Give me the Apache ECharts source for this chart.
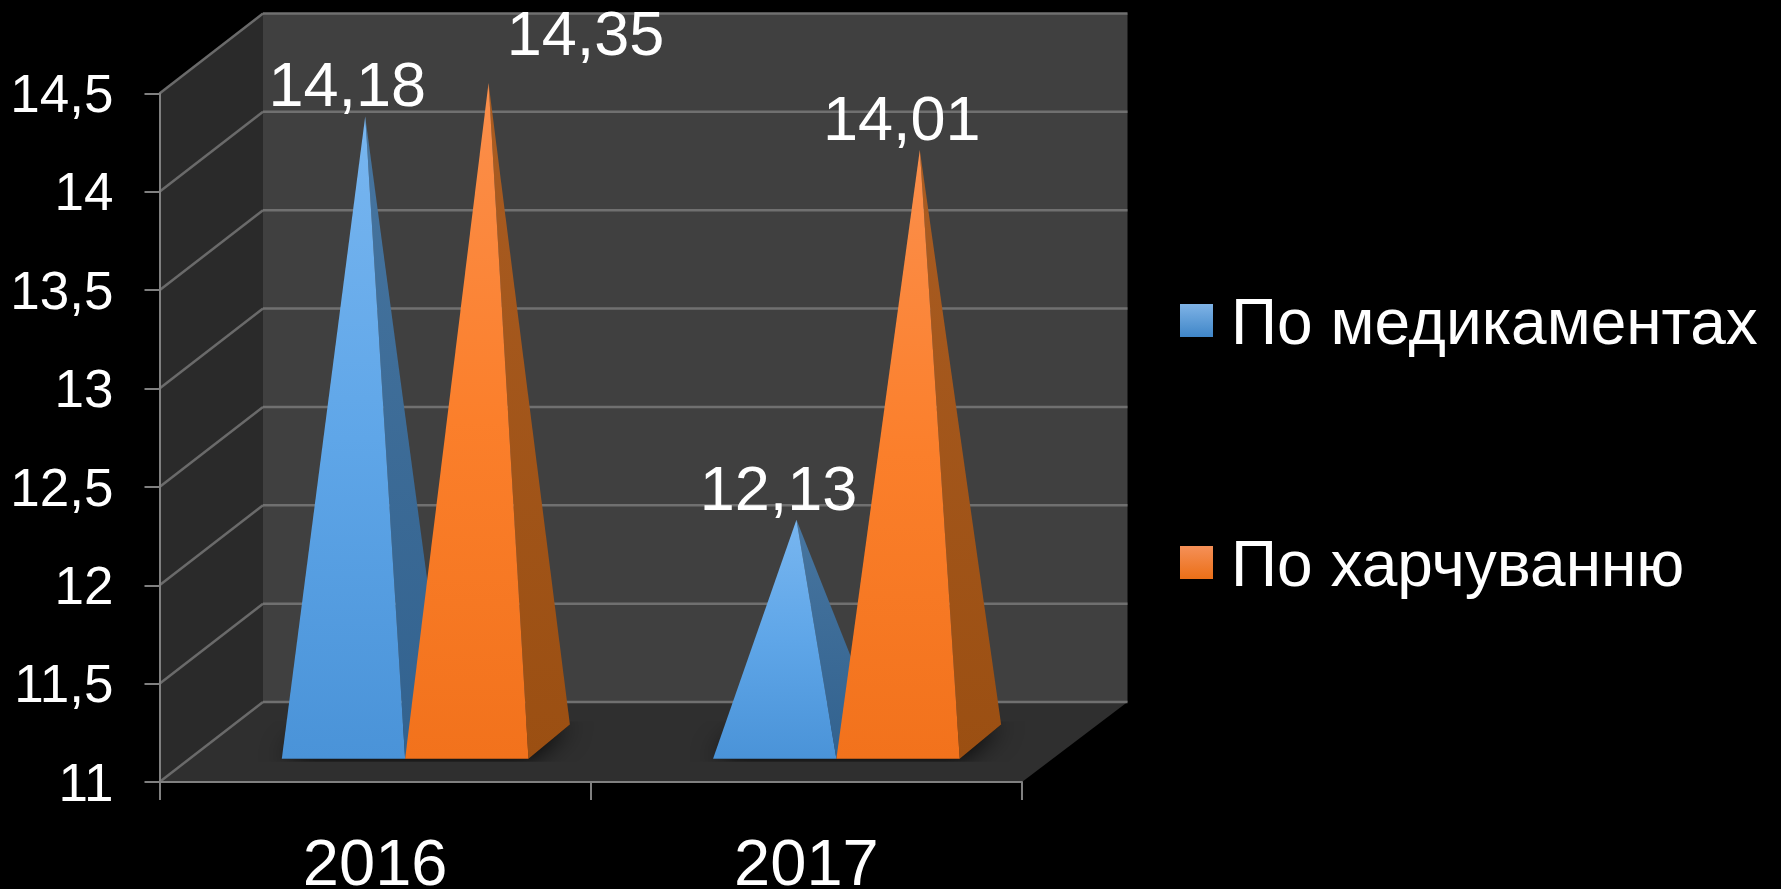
<!DOCTYPE html>
<html>
<head>
<meta charset="utf-8">
<style>html,body{margin:0;padding:0;background:#000}#c{width:1781px;height:889px}</style>
<script src="https://cdn.jsdelivr.net/npm/echarts@6/dist/echarts.min.js"></script>
</head>
<body>
<div id="c"></div>
<script>
const categories = ['2016', '2017'];
const medicineName = 'По медикаментах';
const foodName = 'По харчуванню';
const medicineValues = [14.18, 12.13];
const foodValues = [14.35, 14.01];
const axisMin = 11, axisMax = 14.5, axisStep = 0.5;

// view settings for the oblique 3D look
const DX = 103.5, DY = 80, BACK_EXTRA = 2, D0 = 0.29, D1 = 0.72, D1X = 0.69, BAR = 0.286;
const FONT = '"Liberation Sans", Arial, sans-serif';
const G = (a, b, c) => new echarts.graphic.LinearGradient(0, 0, 0, 1,
  c ? [{offset:0,color:a},{offset:.5,color:b},{offset:1,color:c}] : [{offset:0,color:a},{offset:1,color:b}]);
const comma = (v, n) => (n === undefined ? String(v) : v.toFixed(n)).replace('.', ',');
const tickValues = [];
for (let k = 0; axisMin + k * axisStep <= axisMax; k++) tickValues.push(axisMin + k * axisStep);

function renderWalls(params, api) {
  const r = params.coordSys, L = r.x, R = r.x + r.width, BR = R + DX + BACK_EXTRA;
  const yb = api.coord([0, axisMin])[1], yt = api.coord([0, axisMax])[1];
  const poly = (pts, fill) => ({type:'polygon', shape:{points:pts}, style:{fill}, silent:true});
  const line = (a, b, color, w) => ({type:'line', shape:{x1:a[0],y1:a[1],x2:b[0],y2:b[1]}, style:{stroke:color,lineWidth:w}, silent:true});
  const children = [
    poly([[L,yb],[L+DX,yb-DY],[L+DX,yt-DY],[L,yt]], '#2a2a2a'),
    poly([[L+DX,yb-DY],[BR,yb-DY],[BR,yt-DY],[L+DX,yt-DY]], '#404040'),
    poly([[L,yb],[R,yb],[BR,yb-DY],[L+DX,yb-DY]], '#2f2f2f')
  ];
  tickValues.forEach(v => {
    const y = api.coord([0, v])[1];
    children.push(line([L,y],[L+DX,y-DY],'#6a6a6a',2.5));
    children.push(line([L+DX,y-DY],[BR,y-DY],'#707070',2.5));
  });
  return {type:'group', children};
}

function footprint(api, cat) {
  const c = api.coord([cat, axisMin]), w = api.size([1, 0])[0] * BAR;
  return {x:c[0], y:c[1], w};
}

function renderShadow(params, api) {
  const f = footprint(api, api.value(0));
  const l = f.x - f.w, r = f.x + f.w;
  const P = (x, dx, d) => [x + dx * DX, f.y - d * DY];
  const yFront = f.y - D0 * DY, yBack = f.y - D1 * DY;
  return {type:'polygon', shape:{points:[P(l,D0,D0),P(r,D0,D0),P(r,D1X,D1),P(l,D1X,D1)]},
    clipPath:{type:'rect', shape:{x:l-60, y:yBack-3, width:2*f.w+240, height:yFront-yBack+6}},
    style:{fill:'#111', shadowBlur:26, shadowColor:'rgba(0,0,0,0.95)'}, silent:true};
}

function pyramid(side, colors, labelShift) {
  return function (params, api) {
    const cat = api.value(0), val = api.value(1);
    const f = footprint(api, cat);
    const cx = f.x + side * f.w / 2;
    const l = cx - f.w / 2, r = cx + f.w / 2;
    const P = (x, dx, d) => [x + dx * DX, f.y - d * DY];
    const top = api.coord([cat, val])[1];
    const apex = [cx + 0.5 * DX, top - 0.5 * DY];
    const shift = labelShift[cat] || [-18, 4];
    return {type:'group', children:[
      {type:'polygon', shape:{points:[P(r,D0,D0),P(r,D1X,D1),apex]}, style:{fill:G(colors.sideTop, colors.sideBottom)}},
      {type:'polygon', shape:{points:[P(l,D0,D0),P(r,D0,D0),apex]}, style:{fill:G(colors.top, colors.mid, colors.bottom)}},
      {type:'text', style:{text:comma(val, 2), x:apex[0]+shift[0], y:apex[1]+shift[1],
        fill:'#fff', font:'63px ' + FONT, align:'center', verticalAlign:'bottom'}, z2:10}
    ]};
  };
}

const blue = {top:'#78b6f0', mid:'#5fa6e8', bottom:'#4a93d8', sideTop:'#47759f', sideBottom:'#32628f'};
const orange = {top:'#fb8f4c', mid:'#fb7f2b', bottom:'#f2721c', sideTop:'#a95c22', sideBottom:'#9b4f12'};
const foodShift = {0:[97,-14]};

const chart = echarts.init(document.getElementById('c'), null, {renderer:'canvas'});
chart.setOption({
  backgroundColor:'#000',
  animation:false,
  grid:{left:159.5, right:759, top:93.5, bottom:107, outerBoundsMode:'none'},
  legend:{
    show:true, orient:'vertical', left:1180, top:282.5, padding:0, itemWidth:33, itemHeight:33, itemGap:166,
    icon:'rect', selectedMode:false,
    formatter:'{t|{name}}',
    textStyle:{color:'#fff', fontFamily:FONT, rich:{t:{color:'#fff', fontSize:64, fontFamily:FONT, lineHeight:70, padding:[12,0,0,13]}}},
    data:[
      {name:medicineName, itemStyle:{color:G('#7fb3e6','#3f86c8')}},
      {name:foodName, itemStyle:{color:G('#f59058','#eb6f17')}}
    ]
  },
  xAxis:{type:'category', data:categories, z:5,
    axisLine:{lineStyle:{color:'#808080', width:2}},
    axisTick:{show:true, length:18, alignWithLabel:false, lineStyle:{color:'#808080', width:2}},
    axisLabel:{color:'#fff', fontSize:65, fontFamily:FONT, margin:53},
    splitLine:{show:false}},
  yAxis:{type:'value', min:axisMin, max:axisMax, interval:axisStep, z:5,
    axisLine:{show:true, lineStyle:{color:'#808080', width:2}},
    axisTick:{show:true, length:15, lineStyle:{color:'#808080', width:2}},
    axisLabel:{color:'#fff', fontFamily:FONT, margin:46, formatter:v => '{t|' + comma(v) + '}',
      rich:{t:{color:'#fff', fontSize:53, fontFamily:FONT, padding:[8,0,0,0]}}},
    splitLine:{show:false}},
  series:[
    {type:'custom', name:'walls', silent:true, renderItem:renderWalls, data:[[0, axisMin]], clip:false, encode:{x:0,y:1}},
    {type:'custom', name:'shadow', silent:true, renderItem:renderShadow, data:categories.map((c,i)=>[i,axisMin]), clip:false, encode:{x:0,y:1}},
    {type:'custom', name:medicineName, renderItem:pyramid(-1, blue, {}), data:medicineValues.map((v,i)=>[i,v]), clip:false, encode:{x:0,y:1}},
    {type:'custom', name:foodName, renderItem:pyramid(1, orange, foodShift), data:foodValues.map((v,i)=>[i,v]), clip:false, encode:{x:0,y:1}}
  ]
});
</script>
</body>
</html>
